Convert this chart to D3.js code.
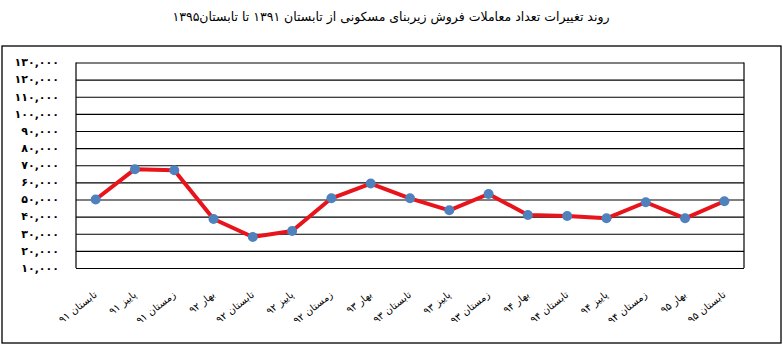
<!DOCTYPE html>
<html>
<head>
<meta charset="utf-8">
<script src="https://cdn.jsdelivr.net/npm/d3@7"></script>
<style>
  body { margin: 0; background: #fff; }
  text { font-family: "DejaVu Sans", sans-serif; }
</style>
</head>
<body>
<div id="chart"></div>
<script>
var svgWidth = 783;
var svgHeight = 347;

var titleText = "روند تغییرات تعداد معاملات فروش زیربنای مسکونی از تابستان ۱۳۹۱ تا تابستان۱۳۹۵";

// Seasons (x axis)
var seasons = ["تابستان ۹۱", "پاییز ۹۱", "زمستان ۹۱", "بهار ۹۲", "تابستان ۹۲", "پاییز ۹۲",
    "زمستان ۹۲", "بهار ۹۳", "تابستان ۹۳", "پاییز ۹۳", "زمستان ۹۳", "بهار ۹۴",
    "تابستان ۹۴", "پاییز ۹۴", "زمستان ۹۴", "بهار ۹۵", "تابستان ۹۵"];

// Number of transactions
var sales = [50000, 67700, 67100, 38600, 28100, 31600, 50700, 59300, 50700, 43700,
    53200, 41000, 40400, 39000, 48400, 39000, 49000];

// y ticks
var yTicks = [10000, 20000, 30000, 40000, 50000, 60000, 70000, 80000, 90000, 100000, 110000, 120000, 130000];

var margin = { top: 62.5, right: 39, bottom: 79, left: 76 };
var width = svgWidth - margin.left - margin.right;
var height = svgHeight - margin.top - margin.bottom;

function faDigits(s) {
    return String(s).replace(/[0-9]/g, function(d) { return "۰۱۲۳۴۵۶۷۸۹"[+d]; });
}

var svg = d3.select("#chart").append("svg").attr("width", svgWidth).attr("height", svgHeight);

// outer border
svg.append("rect").attr("x", 2).attr("y", 46).attr("width", 779).attr("height", 297)
    .attr("fill", "none").attr("stroke", "#000").attr("stroke-width", 1.3);

svg.append("text").attr("x", 391).attr("y", 21).attr("text-anchor", "middle")
    .attr("font-size", 12.5).attr("fill", "#000").text(titleText);

var chartGroup = svg.append("g").attr("transform", `translate(${margin.left}, ${margin.top})`);

var x = d3.scaleBand().domain(seasons).range([0, width]);
var y = d3.scaleLinear().domain([10000, 130000]).range([height, 0]);

// gridlines
chartGroup.append("g")
    .call(d3.axisLeft(y).tickValues(yTicks).tickSize(-width).tickFormat(""))
    .call(g => g.select(".domain").remove())
    .call(g => g.selectAll("line").attr("stroke", "#000").attr("stroke-width", 1.2));

// plot frame sides
chartGroup.append("line").attr("x1", 0).attr("x2", 0).attr("y1", 0).attr("y2", height)
    .attr("stroke", "#000").attr("stroke-width", 1.2);
chartGroup.append("line").attr("x1", width).attr("x2", width).attr("y1", 0).attr("y2", height)
    .attr("stroke", "#000").attr("stroke-width", 1.2);

// y labels
chartGroup.append("g")
    .selectAll("text").data(yTicks).join("text")
    .attr("x", -17).attr("y", d => y(d)).attr("dy", "0.35em")
    .attr("text-anchor", "end").attr("font-size", 11).attr("font-weight", "bold")
    .attr("fill", "#000")
    .text(d => faDigits(d3.format(",")(d)));

// x labels
chartGroup.append("g")
    .selectAll("text").data(seasons).join("text")
    .attr("transform", d => `translate(${x(d) + x.bandwidth() / 2 + 2}, ${height + 28}) rotate(-38)`)
    .attr("text-anchor", "end").attr("font-size", 10).attr("fill", "#000")
    .text(d => d);

// line
var line = d3.line().x((d, i) => x(seasons[i]) + x.bandwidth() / 2).y(d => y(d));
chartGroup.append("path").datum(sales).attr("d", line)
    .attr("fill", "none").attr("stroke", "#e8141b").attr("stroke-width", 4)
    .attr("stroke-linejoin", "round");

chartGroup.append("g").selectAll("circle").data(sales).join("circle")
    .attr("cx", (d, i) => x(seasons[i]) + x.bandwidth() / 2)
    .attr("cy", d => y(d)).attr("r", 5)
    .attr("fill", "#4f81bd");
</script>
</body>
</html>
